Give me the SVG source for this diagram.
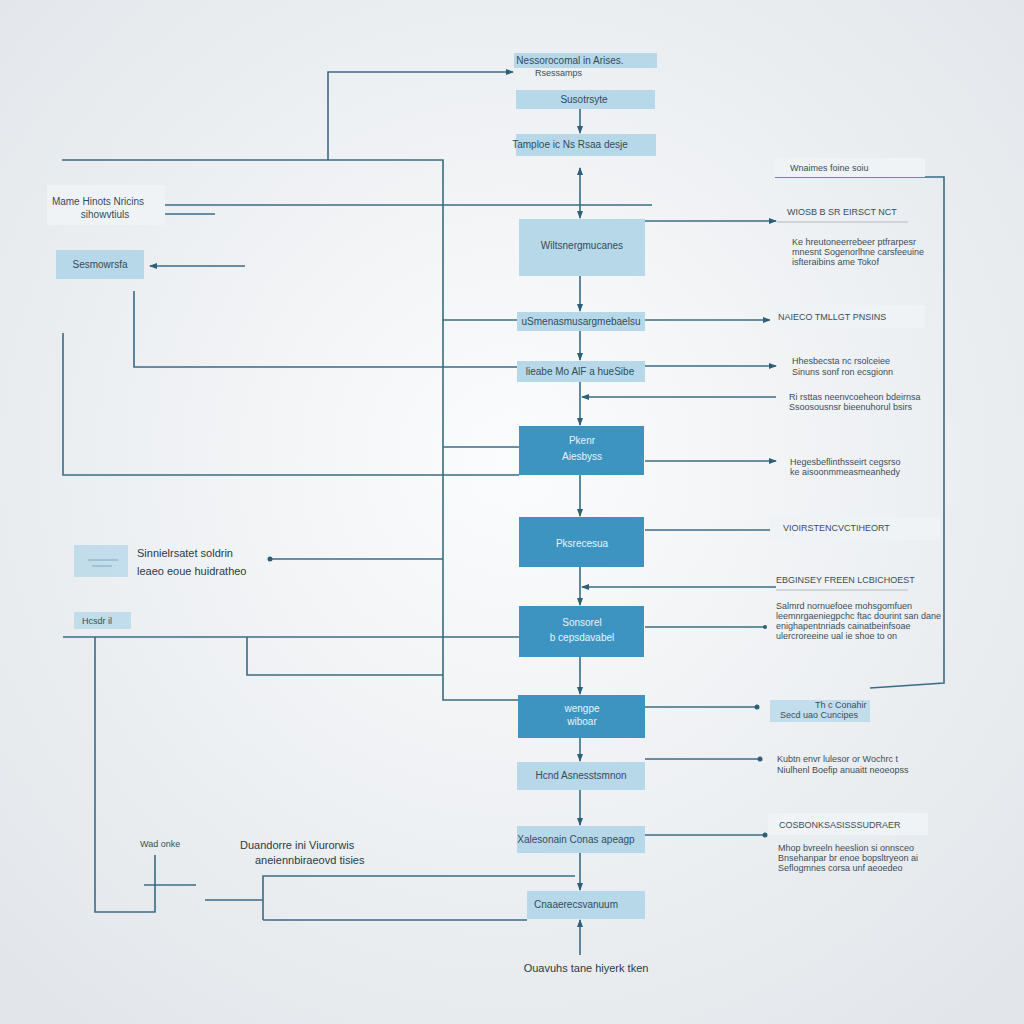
<svg xmlns="http://www.w3.org/2000/svg" width="1024" height="1024" viewBox="0 0 1024 1024">
<defs>
<radialGradient id="bg" cx="50%" cy="45%" r="70%">
<stop offset="0" stop-color="#fbfcfd"/><stop offset="1" stop-color="#e2e6ea"/>
</radialGradient>
<marker id="ah" markerWidth="8" markerHeight="8" refX="7" refY="4" orient="auto" markerUnits="userSpaceOnUse">
<path d="M0,1 L8,4 L0,7 Z" fill="#2e5f78"/>
</marker>
<style>
.lb{fill:#b7d8e8}
.db{fill:#3d94c1}
.pn{fill:#f0f3f6}
.ln{fill:none;stroke:#3a6c84;stroke-width:1.6}
.t{font-family:"Liberation Sans",Arial,sans-serif;font-size:10px;fill:#334b5a;text-anchor:middle}
.tw{font-family:"Liberation Sans",Arial,sans-serif;font-size:10px;fill:#e8f3fa;text-anchor:middle}
.tl{font-family:"Liberation Sans",Arial,sans-serif;font-size:9px;fill:#3c4d58}
.th{font-family:"Liberation Sans",Arial,sans-serif;font-size:11px;fill:#2a3a44}
</style>
</defs>
<rect width="1024" height="1024" fill="url(#bg)"/>

<g id="connectors">
<!-- central column -->
<path class="ln" d="M580,109 V133" marker-end="url(#ah)"/>
<path class="ln" d="M580,192 V168" marker-end="url(#ah)"/>
<path class="ln" d="M580,192 V218" marker-end="url(#ah)"/>
<path class="ln" d="M580,276 V311" marker-end="url(#ah)"/>
<path class="ln" d="M580,331 V360" marker-end="url(#ah)"/>
<path class="ln" d="M580,382 V425" marker-end="url(#ah)"/>
<path class="ln" d="M580,475 V516" marker-end="url(#ah)"/>
<path class="ln" d="M580,567 V605" marker-end="url(#ah)"/>
<path class="ln" d="M580,657 V694" marker-end="url(#ah)"/>
<path class="ln" d="M580,738 V761" marker-end="url(#ah)"/>
<path class="ln" d="M580,790 V825" marker-end="url(#ah)"/>
<path class="ln" d="M580,853 V890" marker-end="url(#ah)"/>
<path class="ln" d="M580,955 V920" marker-end="url(#ah)"/>
<!-- left network -->
<path class="ln" d="M328,160 V72 H513" marker-end="url(#ah)"/>
<path class="ln" d="M62,160 H443 V700 H518"/>
<path class="ln" d="M165,205 H652"/>
<path class="ln" d="M165,214 H215"/>
<path class="ln" d="M245,266 H150" marker-end="url(#ah)"/>
<path class="ln" d="M134,291 V367 H517"/>
<path class="ln" d="M63,333 V475 H519"/>
<path class="ln" d="M443,320 H517"/>
<path class="ln" d="M443,447 H519"/>
<path class="ln" d="M443,559 H268"/>
<circle cx="270" cy="559" r="2.5" fill="#2e5f78"/>
<path class="ln" d="M63,637 H519"/>
<path class="ln" d="M247,637 V675 H443"/>
<path class="ln" d="M95,637 V912 H155 V855"/>
<path class="ln" d="M144,885 H196"/>
<path class="ln" d="M205,900 H263"/>
<path class="ln" d="M263,920 V876 H575"/>
<path class="ln" d="M263,920 H527"/>
<!-- right network -->
<path class="ln" d="M645,221 H776" marker-end="url(#ah)"/>
<path class="ln" d="M645,320 H770" marker-end="url(#ah)"/>
<path class="ln" d="M645,366 H776" marker-end="url(#ah)"/>
<path class="ln" d="M776,397 H582" marker-end="url(#ah)"/>
<path class="ln" d="M645,461 H776" marker-end="url(#ah)"/>
<path class="ln" d="M645,530 H775"/>
<path class="ln" d="M776,587 H582" marker-end="url(#ah)"/>
<path class="ln" d="M645,627 H765"/>
<circle cx="765" cy="627" r="2" fill="#2e5f78"/>
<path class="ln" d="M645,707 H757"/>
<circle cx="757" cy="707" r="2.5" fill="#2e5f78"/>
<path class="ln" d="M645,759 H760"/>
<circle cx="760" cy="759" r="2.5" fill="#2e5f78"/>
<path class="ln" d="M645,835 H765"/>
<circle cx="765" cy="835" r="2.5" fill="#2e5f78"/>
<path class="ln" d="M775,177 H944 V683 L870,688"/>
</g>

<g id="n1"><rect class="lb" x="514" y="53" width="143" height="15"/><text class="t" x="570" y="64">Nessorocomal in Arises.</text><text class="tl" x="535" y="76">Rsessamps</text></g>
<g id="n2"><rect class="lb" x="516" y="90" width="139" height="19"/><text class="t" x="584" y="103">Susotrsyte</text></g>
<g id="n3"><rect class="lb" x="516" y="134" width="140" height="22"/><text class="t" x="570" y="148">Tamploe ic Ns Rsaa desje</text></g>
<g id="n4"><rect class="lb" x="519" y="219" width="126" height="57"/><text class="t" x="582" y="249">Wiltsnergmucanes</text></g>
<g id="n5"><rect class="lb" x="517" y="312" width="128" height="19"/><text class="t" x="581" y="325" font-size="8.5">uSmenasmusargmebaelsu</text></g>
<g id="n6"><rect class="lb" x="517" y="361" width="128" height="21"/><text class="t" x="580" y="375" font-size="9">lieabe Mo AlF a hueSibe</text></g>
<g id="n7"><rect class="db" x="519" y="426" width="125" height="49"/><text class="tw" x="582" y="444">Pkenr</text><text class="tw" x="582" y="460">Aiesbyss</text></g>
<g id="n8"><rect class="db" x="519" y="517" width="125" height="50"/><text class="tw" x="582" y="547">Pksrecesua</text></g>
<g id="n9"><rect class="db" x="519" y="606" width="125" height="51"/><text class="tw" x="582" y="626">Sonsorel</text><text class="tw" x="582" y="641">b cepsdavabel</text></g>
<g id="n10"><rect class="db" x="518" y="695" width="127" height="43"/><text class="tw" x="582" y="712" font-size="9">wengpe</text><text class="tw" x="582" y="725" font-size="9">wiboar</text></g>
<g id="n11"><rect class="lb" x="517" y="762" width="128" height="28"/><text class="t" x="581" y="779" font-size="8.5">Hcnd Asnesstsmnon</text></g>
<g id="n12"><rect class="lb" x="517" y="826" width="128" height="27"/><text class="t" x="576" y="843" font-size="8.5">Xalesonain Conas apeagp</text></g>
<g id="n13"><rect class="lb" x="527" y="891" width="118" height="28"/><text class="t" x="576" y="908" font-size="9">Cnaaerecsvanuum</text></g>
<g id="n14"><text class="th" x="586" y="972" text-anchor="middle">Ouavuhs tane hiyerk tken</text></g>

<g id="l1"><rect class="pn" x="47" y="185" width="118" height="40"/><text class="t" x="98" y="205">Mame Hinots Nricins</text><text class="t" x="105" y="218">sihowvtiuls</text></g>
<g id="l2"><rect class="lb" x="56" y="250" width="88" height="29"/><text class="t" x="100" y="268">Sesmowrsfa</text></g>
<g id="l3"><rect class="lb" x="74" y="545" width="54" height="32" opacity="0.8"/><path d="M88,560 H118 M92,566 H112" stroke="#7fa6ba" stroke-width="1"/><text class="th" x="137" y="557">Sinnielrsatet soldrin</text><text class="th" x="137" y="575">leaeo eoue huidratheo</text></g>
<g id="l4"><rect class="lb" x="74" y="612" width="57" height="17" opacity="0.8"/><text class="tl" x="82" y="624">Hcsdr il</text></g>
<g id="l5"><text class="tl" x="140" y="847">Wad onke</text></g>
<g id="l6"><text class="th" x="240" y="849">Duandorre ini Viurorwis</text><text class="th" x="255" y="864">aneiennbiraeovd tisies</text></g>

<g id="r1"><rect class="pn" x="775" y="158" width="150" height="19"/><text class="tl" x="790" y="171">Wnaimes foine soiu</text></g>
<g id="r2"><text class="tl" x="787" y="215">WIOSB B SR EIRSCT NCT</text><path d="M777,222 H908" stroke="#c4ccd2" stroke-width="1.5"/><text class="tl" x="792" y="245" font-size="7.5">Ke hreutoneerrebeer ptfrarpesr</text><text class="tl" x="792" y="255" font-size="7.5">mnesnt Sogenorlhne carsfeeuine</text><text class="tl" x="792" y="265" font-size="7.5">isfteraibins ame Tokof</text></g>
<g id="r3"><rect class="pn" x="770" y="305" width="155" height="23"/><text class="tl" x="778" y="320">NAIECO TMLLGT PNSINS</text></g>
<g id="r4"><text class="tl" x="792" y="364">Hhesbecsta nc rsolceiee</text><text class="tl" x="792" y="375" font-size="8">Sinuns sonf ron ecsgionn</text></g>
<g id="r5"><text class="tl" x="789" y="400" font-size="8">Ri rsttas neenvcoeheon bdeirnsa</text><text class="tl" x="789" y="410" font-size="8">Ssoosousnsr bieenuhorul bsirs</text></g>
<g id="r6"><text class="tl" x="790" y="465" font-size="8">Hegesbeflinthsseirt cegsrso</text><text class="tl" x="790" y="475" font-size="8">ke aisoonmmeasmeanhedy</text></g>
<g id="r7"><rect class="pn" x="770" y="517" width="170" height="23"/><text class="tl" x="783" y="531">VIOIRSTENCVCTIHEORT</text></g>
<g id="r8"><text class="tl" x="776" y="583">EBGINSEY FREEN LCBICHOEST</text><path d="M776,590 H908" stroke="#c4ccd2" stroke-width="1.5"/><text class="tl" x="776" y="609" font-size="7.5">Salmrd nornuefoee mohsgomfuen</text><text class="tl" x="776" y="619" font-size="7.5">leemnrgaeniegpchc ftac dourint san dane</text><text class="tl" x="776" y="629" font-size="7.5">enighapentnriads cainatbeinfsoae</text><text class="tl" x="776" y="639" font-size="7.5">ulercroreeine ual ie shoe to on</text></g>
<g id="r9"><rect class="lb" x="770" y="700" width="100" height="22" opacity="0.8"/><text class="tl" x="815" y="708" font-size="8">Th c Conahir</text><text class="tl" x="780" y="718" font-size="8">Secd uao Cuncipes</text></g>
<g id="r10"><text class="tl" x="777" y="762" font-size="8">Kubtn envr lulesor or Wochrc t</text><text class="tl" x="777" y="773" font-size="8">Niulhenl Boefip anuaitt neoeopss</text></g>
<g id="r11"><rect class="pn" x="768" y="813" width="160" height="22"/><text class="tl" x="779" y="828">COSBONKSASISSSUDRAER</text><text class="tl" x="778" y="851" font-size="7.5">Mhop bvreeln heeslion si onnsceo</text><text class="tl" x="778" y="861" font-size="7.5">Bnsehanpar br enoe bopsltryeon ai</text><text class="tl" x="778" y="871" font-size="7.5">Seflogmnes corsa unf aeoedeo</text></g>
</svg>
